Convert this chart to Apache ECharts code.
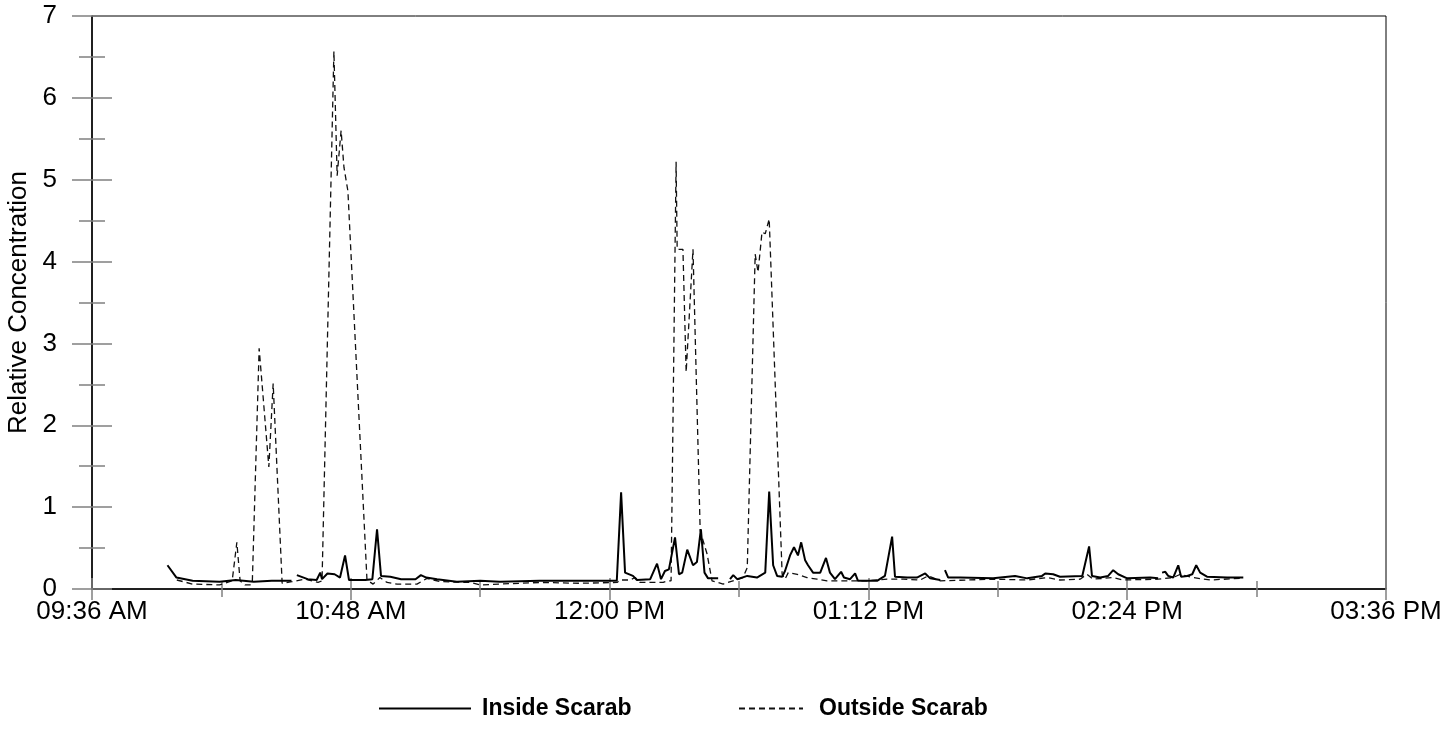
<!DOCTYPE html>
<html>
<head>
<meta charset="utf-8">
<script src="https://cdn.jsdelivr.net/npm/echarts@6/dist/echarts.min.js"></script>
<style>
  html, body { margin: 0; padding: 0; background: #fff; }
  #main { width: 1444px; height: 752px; }
</style>
</head>
<body>
<div id="main"></div>
<script>
// times are minutes since midnight, '-' marks a break in the record
const insideTime = [597,599.5,604,611.5,616,621,626,631.5,632.5,633,636,638.5,639.5,640,641.5,643.5,645,646.4,647.5,652,654,655.3,656.4,659,662,666,667.5,669,672,677.5,684,689.5,700.5,711.5,722,723.2,724.3,726.5,727.6,731.3,733.2,734.3,735.4,736.5,738.2,739.3,740.2,741.6,743.2,744.3,745.4,746.4,747.4,750.2,751,753.5,754.4,755.5,758.3,761,763.3,764.4,765.5,766.6,768,768.8,770.2,771.3,772.4,773.3,774.4,775.2,776.6,778.6,780.2,781.3,782.7,784.4,785.2,786.9,788.3,789.1,794.4,796.6,798.6,799.4,802.8,805.5,807.8,809.2,812,812.7,813.3,814.2,817.5,826.7,832.8,836.2,840.3,841.2,843.4,845.3,851.5,853.4,854.2,856.5,858.7,860.1,861.5,864,870.4,872.6,873.2,873.7,874.6,875.4,876.8,878.2,879,880.7,882.1,883.2,884.3,886.2,891.8,896.3];
const insideValue = [0.29,0.14,0.10,0.09,0.11,0.09,0.10,0.10,'-',0.17,0.12,0.11,0.20,0.12,0.19,0.18,0.14,0.41,0.11,0.11,0.12,0.73,0.16,0.15,0.12,0.12,0.17,0.14,0.12,0.09,0.10,0.09,0.10,0.10,0.10,1.18,0.20,0.16,0.11,0.12,0.31,0.12,0.22,0.24,0.63,0.18,0.20,0.48,0.29,0.33,0.73,0.20,0.13,0.13,'-',0.12,0.17,0.12,0.16,0.14,0.20,1.19,0.29,0.16,0.15,0.22,0.41,0.51,0.41,0.57,0.35,0.29,0.20,0.20,0.38,0.20,0.12,0.21,0.14,0.12,0.19,0.10,0.10,0.16,0.64,0.15,0.14,0.14,0.19,0.13,0.11,'-',0.23,0.14,0.14,0.13,0.16,0.13,0.16,0.19,0.18,0.15,0.16,0.52,0.16,0.14,0.16,0.23,0.18,0.13,0.14,0.13,'-',0.20,0.21,0.16,0.14,0.29,0.15,0.16,0.18,0.29,0.20,0.15,0.14,0.14];

const outsideTime = [599.6,604,611.5,615,616.3,617.2,618.6,620,620.6,622.5,625.2,626.4,628.9,631.6,635.3,638.9,640,643.3,644.2,645.3,646.1,647.2,652.5,654.2,656.1,658.1,660.9,666.4,669.2,672.8,681.2,684,689.5,700.7,711.8,722.1,722.9,725.7,727.1,728.5,734.9,736.3,737.1,738.5,738.8,740.4,741.3,743.2,745.2,747.1,748.5,751.6,752.9,757.1,758.3,760.5,761.3,762.4,763.3,764.4,768,768.8,769.7,772.2,774.9,777.7,780.5,791.6,797.2,801.7,806.4,808.6,812,819.5,826.7,836.2,841.7,845.3,850.9,852.8,854.5,860.1,862.9,872.6,876.8,878.8,882.3,887.1,895.4];
const outsideValue = [0.11,0.06,0.05,0.10,0.57,0.10,0.05,0.05,0.08,2.94,1.49,2.51,0.07,0.09,0.12,0.08,0.10,6.57,5.05,5.6,5.15,4.86,0.11,0.06,0.14,0.08,0.06,0.06,0.13,0.09,0.08,0.05,0.06,0.08,0.07,0.08,0.11,0.11,0.14,0.08,0.08,0.10,0.10,5.22,4.15,4.15,2.65,4.15,0.71,0.43,0.10,0.06,0.08,0.14,0.26,4.09,3.87,4.36,4.34,4.52,0.18,0.12,0.20,0.18,0.14,0.12,0.10,0.10,0.12,0.12,0.11,0.16,0.10,0.11,0.12,0.11,0.14,0.11,0.12,0.18,0.12,0.14,0.11,0.12,0.14,0.18,0.14,0.11,0.13];

const xMin = 576, xMax = 936;   // 09:36 AM .. 03:36 PM
const yMin = 0, yMax = 7;

const font = "'Liberation Sans', Arial, sans-serif";

function clock(m) {
  let h = Math.floor(m / 60), mm = Math.round(m % 60);
  const ap = h >= 12 ? 'PM' : 'AM';
  h = h % 12; if (h === 0) h = 12;
  return (h < 10 ? '0' + h : h) + ':' + (mm < 10 ? '0' + mm : mm) + ' ' + ap;
}

const chart = echarts.init(document.getElementById('main'));

const xBase = {
  type: 'value', min: xMin, max: xMax, interval: 72,
  splitLine: { show: false }
};
const yBase = {
  type: 'value', min: yMin, max: yMax, interval: 1,
  splitLine: { show: false }
};
const tickGray = { color: '#808080', width: 1.5 };
const legendText = { fontFamily: font, fontSize: 23, fontWeight: 'bold', color: '#000' };

chart.setOption({
  animation: false,
  backgroundColor: '#fff',
  grid: {
    left: 92, right: 58, top: 16, bottom: 163,
    outerBoundsMode: 'none', containLabel: false,
    show: true, borderColor: '#000', borderWidth: 1
  },
  legend: [
    {
      data: ['Inside Scarab'], left: 378, top: 697, padding: 0,
      itemWidth: 92, itemHeight: 14, itemGap: 0,
      itemStyle: { opacity: 0 },
      textStyle: Object.assign({ padding: [0, 0, 0, 6] }, legendText)
    },
    {
      data: ['Outside Scarab'], left: 738, top: 697, padding: 0,
      itemWidth: 64, itemHeight: 14, itemGap: 0,
      itemStyle: { opacity: 0 },
      textStyle: Object.assign({ padding: [0, 0, 0, 11] }, legendText)
    }
  ],
  xAxis: [
    Object.assign({}, xBase, {
      axisLine: { lineStyle: { color: '#000', width: 1.5 } },
      axisTick: { length: 11, lineStyle: tickGray },
      minorTick: { show: true, splitNumber: 2, length: 8, lineStyle: tickGray },
      axisLabel: { margin: 10, fontFamily: font, fontSize: 26, color: '#000', formatter: clock, hideOverlap: false }
    }),
    Object.assign({}, xBase, {
      position: 'bottom',
      axisLine: { show: false },
      axisTick: { inside: true, length: 11, lineStyle: tickGray },
      minorTick: { show: true, splitNumber: 2, length: 8, lineStyle: tickGray },
      axisLabel: { show: false }
    })
  ],
  yAxis: [
    Object.assign({}, yBase, {
      name: 'Relative Concentration', nameLocation: 'middle', nameGap: 59,
      nameTextStyle: { fontFamily: font, fontSize: 26, color: '#000' },
      axisLine: { lineStyle: { color: '#000', width: 1.5 } },
      axisTick: { length: 20, lineStyle: tickGray },
      minorTick: { show: true, splitNumber: 2, length: 13, lineStyle: tickGray },
      axisLabel: { margin: 35, fontFamily: font, fontSize: 26, color: '#000' }
    }),
    Object.assign({}, yBase, {
      position: 'left',
      axisLine: { show: false },
      axisTick: { inside: true, length: 20, lineStyle: tickGray },
      minorTick: { show: true, splitNumber: 2, length: 13, lineStyle: tickGray },
      axisLabel: { show: false }
    })
  ],
  series: [
    {
      name: 'Outside Scarab', type: 'line', symbol: 'none',
      data: outsideTime.map((t, i) => [t, outsideValue[i]]),
      connectNulls: false,
      lineStyle: { color: '#111', width: 1.3, type: [6, 4] },
      itemStyle: { color: '#111' }
    },
    {
      name: 'Inside Scarab', type: 'line', symbol: 'none',
      data: insideTime.map((t, i) => [t, insideValue[i]]),
      connectNulls: false,
      lineStyle: { color: '#000', width: 2 },
      itemStyle: { color: '#000' }
    }
  ]
});
</script>
</body>
</html>
